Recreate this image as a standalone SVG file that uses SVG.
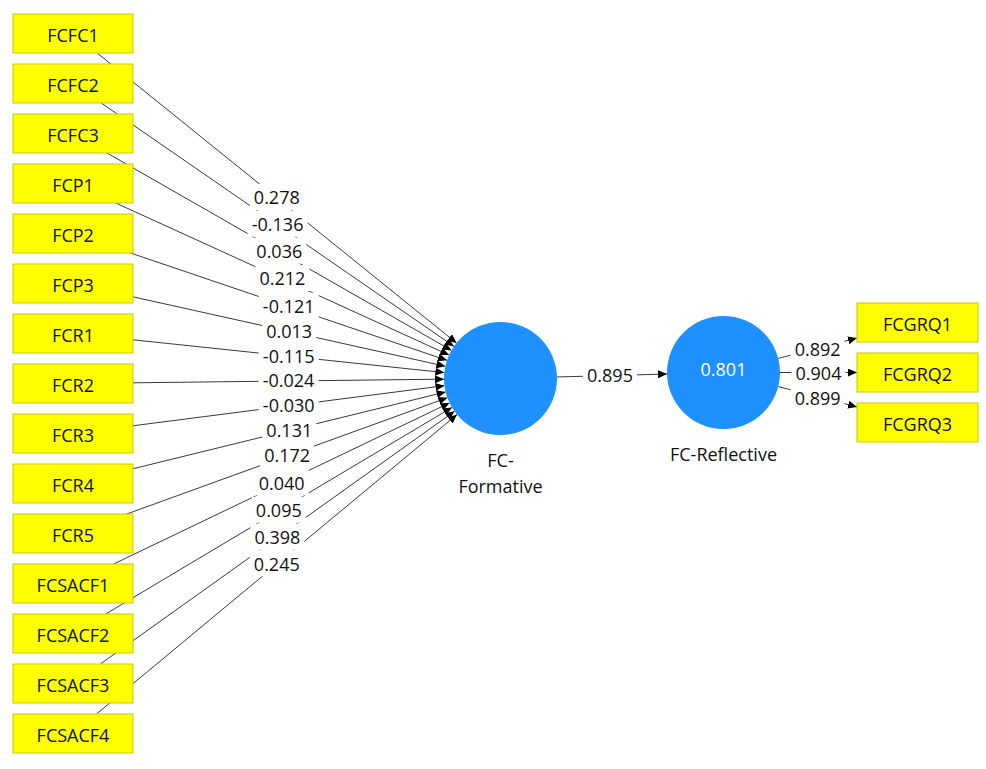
<svg xmlns="http://www.w3.org/2000/svg" width="986" height="769" viewBox="0 0 986 769">
<defs>
<style>
.box rect{fill:#FFFF00;stroke:#C8C800;stroke-width:1}
.box text,.lbl text,.cap{font-family:"Open Sans","Noto Sans","Liberation Sans",sans-serif;font-size:18px;fill:#111;text-anchor:middle}
.lbl rect{fill:#fff}
.lv{font-family:"Open Sans","Noto Sans","Liberation Sans",sans-serif;font-size:18px;fill:#fff;text-anchor:middle}
.c{fill:#1E90FF}
#connectors line{stroke:#3a3a3a;stroke-width:1;marker-end:url(#ah)}
</style>
<marker id="ah" viewBox="0 0 9 8" refX="9" refY="4" markerWidth="9" markerHeight="8" markerUnits="userSpaceOnUse" orient="auto">
<path d="M0,0 L9,4 L0,8 z" fill="#000"/>
</marker>
</defs>
<rect width="986" height="769" fill="#fff"/>
<g id="connectors">
<line x1="97.16" y1="53" x2="456.53" y2="343.02"/>
<line x1="101.26" y1="103" x2="454.0" y2="346.41"/>
<line x1="107.03" y1="153" x2="451.48" y2="350.41"/>
<line x1="115.75" y1="203" x2="449.09" y2="355.05"/>
<line x1="130.49" y1="253" x2="446.99" y2="360.35"/>
<line x1="133" y1="296.83" x2="445.34" y2="366.24"/>
<line x1="133" y1="339.82" x2="444.31" y2="372.59"/>
<line x1="133" y1="382.80" x2="444.0" y2="379.16"/>
<line x1="133" y1="425.78" x2="444.46" y2="385.71"/>
<line x1="133" y1="468.76" x2="445.63" y2="391.98"/>
<line x1="126.78" y1="514" x2="447.38" y2="397.76"/>
<line x1="113.67" y1="564" x2="449.55" y2="402.93"/>
<line x1="105.69" y1="614" x2="451.98" y2="407.44"/>
<line x1="100.33" y1="664" x2="454.50" y2="411.31"/>
<line x1="96.48" y1="714" x2="457.03" y2="414.60"/>
<line x1="556.98" y1="376.98" x2="667.02" y2="374.02"/>
<line x1="778.21" y1="358.40" x2="857" y2="338.09"/>
<line x1="780" y1="372.5" x2="857" y2="372.5"/>
<line x1="778.21" y1="386.60" x2="857" y2="406.91"/>
</g>
<g id="labels" class="lbl">
<rect x="249.8" y="184" width="54" height="26"/><text x="276.8" y="204.4">0.278</text>
<rect x="247.6" y="210.7" width="60" height="26"/><text x="277.6" y="231.1">-0.136</text>
<rect x="252.3" y="237.7" width="54" height="26"/><text x="279.3" y="258.1">0.036</text>
<rect x="255.4" y="265" width="54" height="26"/><text x="282.4" y="285.4">0.212</text>
<rect x="258.7" y="292.7" width="60" height="26"/><text x="288.7" y="313.1">-0.121</text>
<rect x="262.2" y="317.5" width="54" height="26"/><text x="289.2" y="337.9">0.013</text>
<rect x="258.7" y="342.2" width="60" height="26"/><text x="288.7" y="362.6">-0.115</text>
<rect x="258.5" y="367" width="60" height="26"/><text x="288.5" y="387.4">-0.024</text>
<rect x="258.7" y="391.8" width="60" height="26"/><text x="288.7" y="412.2">-0.030</text>
<rect x="262.3" y="416.4" width="54" height="26"/><text x="289.3" y="436.8">0.131</text>
<rect x="260.1" y="441.9" width="54" height="26"/><text x="287.1" y="462.3">0.172</text>
<rect x="254.6" y="469.5" width="54" height="26"/><text x="281.6" y="489.9">0.040</text>
<rect x="251.8" y="496.7" width="54" height="26"/><text x="278.8" y="517.1">0.095</text>
<rect x="250.4" y="523.7" width="54" height="26"/><text x="277.4" y="544.1">0.398</text>
<rect x="249.8" y="550.3" width="54" height="26"/><text x="276.8" y="570.7">0.245</text>
<rect x="583" y="361.5" width="54" height="26"/><text x="610" y="382">0.895</text>
<rect x="790.6" y="336.5" width="54" height="24"/><text x="817.6" y="356">0.892</text>
<rect x="791.5" y="361" width="54" height="23"/><text x="818.5" y="380">0.904</text>
<rect x="790.6" y="385" width="54" height="24"/><text x="817.6" y="404.5">0.899</text>
</g>
<g id="FCFC1" class="box"><rect x="13" y="14" width="120" height="39"/><text x="73" y="42">FCFC1</text></g>
<g id="FCFC2" class="box"><rect x="13" y="64" width="120" height="39"/><text x="73" y="92">FCFC2</text></g>
<g id="FCFC3" class="box"><rect x="13" y="114" width="120" height="39"/><text x="73" y="142">FCFC3</text></g>
<g id="FCP1" class="box"><rect x="13" y="164" width="120" height="39"/><text x="73" y="192">FCP1</text></g>
<g id="FCP2" class="box"><rect x="13" y="214" width="120" height="39"/><text x="73" y="242">FCP2</text></g>
<g id="FCP3" class="box"><rect x="13" y="264" width="120" height="39"/><text x="73" y="292">FCP3</text></g>
<g id="FCR1" class="box"><rect x="13" y="314" width="120" height="39"/><text x="73" y="342">FCR1</text></g>
<g id="FCR2" class="box"><rect x="13" y="364" width="120" height="39"/><text x="73" y="392">FCR2</text></g>
<g id="FCR3" class="box"><rect x="13" y="414" width="120" height="39"/><text x="73" y="442">FCR3</text></g>
<g id="FCR4" class="box"><rect x="13" y="464" width="120" height="39"/><text x="73" y="492">FCR4</text></g>
<g id="FCR5" class="box"><rect x="13" y="514" width="120" height="39"/><text x="73" y="542">FCR5</text></g>
<g id="FCSACF1" class="box"><rect x="13" y="564" width="120" height="39"/><text x="73" y="592">FCSACF1</text></g>
<g id="FCSACF2" class="box"><rect x="13" y="614" width="120" height="39"/><text x="73" y="642">FCSACF2</text></g>
<g id="FCSACF3" class="box"><rect x="13" y="664" width="120" height="39"/><text x="73" y="692">FCSACF3</text></g>
<g id="FCSACF4" class="box"><rect x="13" y="714" width="120" height="39"/><text x="73" y="742">FCSACF4</text></g>
<g id="FCGRQ1" class="box"><rect x="857" y="303" width="121" height="39"/><text x="917.5" y="331">FCGRQ1</text></g>
<g id="FCGRQ2" class="box"><rect x="857" y="353" width="121" height="39"/><text x="917.5" y="381">FCGRQ2</text></g>
<g id="FCGRQ3" class="box"><rect x="857" y="403" width="121" height="39"/><text x="917.5" y="431">FCGRQ3</text></g>
<g id="FC-Formative">
<circle class="c" cx="500.5" cy="378.5" r="56.5"/>
<text class="cap" x="500.5" y="467">FC-</text>
<text class="cap" x="500.5" y="493">Formative</text>
</g>
<g id="FC-Reflective">
<circle class="c" cx="723.5" cy="372.5" r="56.5"/>
<text class="lv" x="723.5" y="375.5">0.801</text>
<text class="cap" x="723.5" y="461">FC-Reflective</text>
</g>
</svg>
